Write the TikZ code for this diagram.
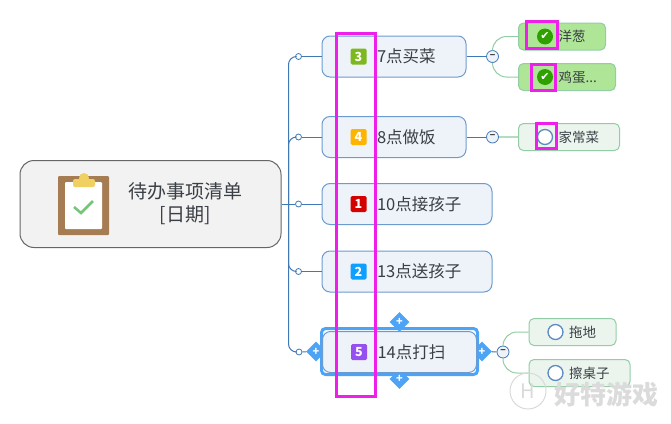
\documentclass[tikz,border=0pt]{standalone}
\usepackage{fontspec}
\usepackage{xcolor}
\setmainfont{Noto Sans CJK SC}
\newfontfamily\symfont{DejaVu Sans}
\usetikzlibrary{positioning,shapes.geometric}
\definecolor{inkgrey}{HTML}{3A3F45}
\definecolor{topicblue}{HTML}{3F78B5}
\definecolor{topicedge}{HTML}{6C9BCF}
\definecolor{topicfill}{HTML}{EEF3FA}
\definecolor{leafline}{HTML}{93CDA5}
\definecolor{donefill}{HTML}{AEE596}
\definecolor{openfill}{HTML}{EBF5EE}
\definecolor{selblue}{HTML}{4DA3F5}
\definecolor{hilite}{HTML}{F01EEB}
\definecolor{boardbrown}{HTML}{A67C52}
\definecolor{clipyellow}{HTML}{EFD060}
\definecolor{tickgreen}{HTML}{76C478}
\definecolor{prio_a}{HTML}{7DB81E}
\definecolor{prio_b}{HTML}{FFB400}
\definecolor{prio_c}{HTML}{D50000}
\definecolor{prio_d}{HTML}{0FA0FF}
\definecolor{prio_e}{HTML}{9650F0}
\definecolor{checkgreen}{HTML}{2EA000}

\begin{document}
\begin{tikzpicture}[x=1pt,y=-1pt,on grid,
    every node/.style={text=inkgrey},
    roottopic/.style={draw=black!60,fill=black!5,line width=1pt,rounded corners=14pt,
      minimum width=261pt,minimum height=87pt},
    topic/.style={draw=topicedge,fill=topicfill,line width=1pt,rounded corners=8pt,
      text width=#1,align=left,inner xsep=0pt,minimum height=41pt,font=\fontsize{16.5}{19}\selectfont,
      execute at begin node={\hspace*{55pt}}},
    leaf/.style={draw=leafline,rounded corners=5pt,line width=1pt,
      text width=#1,align=left,inner xsep=0pt,minimum height=27pt,font=\fontsize{13.5}{16}\selectfont,
      execute at begin node={\hspace*{40pt}}},
    done/.style={fill=donefill},
    open/.style={fill=openfill},
    prio/.style={fill=#1,rounded corners=1.5pt,minimum size=16pt,inner sep=0pt,text=white,
      font=\bfseries\fontsize{12.5}{12.5}\selectfont},
    checked/.style={circle,fill=checkgreen,minimum size=16pt,inner sep=0pt,text=white,
      font=\symfont\fontsize{11}{11}\selectfont},
    unchecked/.style={circle,draw=topicblue!85!white,fill=white,line width=1.3pt,minimum size=15pt,inner sep=0pt},
    knob/.style={circle,draw=topicblue,fill=white,line width=.8pt,minimum size=6pt,inner sep=0pt},
    fold/.style={circle,draw=topicblue,fill=topicfill,line width=.8pt,minimum size=12pt,inner sep=0pt,
      font=\bfseries\fontsize{9}{9}\selectfont},
    handle/.style={diamond,fill=selblue,minimum size=20pt,inner sep=0pt,text=white,
      font=\bfseries\fontsize{11}{11}\selectfont},
    marker/.style={draw=hilite,line width=3pt,inner sep=0pt},
    branch/.style={draw=topicblue,line width=1pt},
    twig/.style={draw=leafline,line width=1pt,rounded corners=14pt}]
    \useasboundingbox (0,0) rectangle (671,423);

    % central topic
    \node[roottopic] (root) at (150.5,204) {};
    \node (root_txt) [right=34.5pt of root] [align=center,font=\fontsize{19}{23}\selectfont] {待办事项清单\\{}[日期]};
    % clipboard
    \fill[boardbrown,rounded corners=1pt] (58,176) rectangle (109,235);
    \fill[white,rounded corners=1pt] (65,182) rectangle (102,229);
    \fill[clipyellow,rounded corners=2pt] (73,179) rectangle (95,187);
    \fill[clipyellow] (84,178) circle (5);
    \draw[tickgreen,line width=2.5pt] (74,207) -- (81,213) -- (93,201);

    % main topics
    \node[topic=144pt] (t_1) [above right=147.5pt and 243.5pt of root] {7点买菜};
    \node[topic=144pt] (t_2) [above right=67pt and 243.5pt of root]    {8点做饭};
    \node[topic=170pt] (t_3) [right=256.5pt of root]                   {10点接孩子};
    \node[topic=170pt] (t_4) [below right=67.5pt and 256.5pt of root]  {13点送孩子};
    % selected topic
    \node[draw=selblue,fill=white,line width=3pt,rounded corners=4pt,minimum width=156pt,minimum height=46pt]
      (sel) [below right=147.5pt and 249pt of root] {};
    \node[handle] (h_l) [left=4pt of sel.west,anchor=center]   {+};
    \node[handle] (h_r) [right=3pt of sel.east,anchor=center]  {+};
    \node[handle] (h_t) [above=5pt of sel.north,anchor=center] {+};
    \node[handle] (h_b) [below=3pt of sel.south,anchor=center] {+};
    \node[topic=154pt] (t_5) [below=0.5pt of sel] {14点打扫};

    % priorities
    \node[prio=prio_a] (p_1) [right=37pt of t_1.west,anchor=center] {3};
    \node[prio=prio_b] (p_2) [right=37pt of t_2.west,anchor=center] {4};
    \node[prio=prio_c] (p_3) [right=37pt of t_3.west,anchor=center] {1};
    \node[prio=prio_d] (p_4) [right=37pt of t_4.west,anchor=center] {2};
    \node[prio=prio_e] (p_5) [right=37pt of t_5.west,anchor=center] {5};

    % bus knobs
    \coordinate (bus) at ([xshift=7pt]root.east);
    \node[knob] (c_1) [left=23pt of t_1.west,anchor=center] {};
    \node[knob] (c_2) [left=23pt of t_2.west,anchor=center] {};
    \node[knob] (c_3) [left=23pt of t_3.west,anchor=center] {};
    \node[knob] (c_4) [left=23pt of t_4.west,anchor=center] {};
    \node[knob] (c_5) [left=23pt of t_5.west,anchor=center] {};

    % fold buttons
    \node[fold] (m_1) [right=26pt of t_1.east,anchor=center] {−};
    \node[fold] (m_2) [right=26pt of t_2.east,anchor=center] {−};
    \node[fold] (m_5) [right=26pt of t_5.east,anchor=center] {−};

    % subtopics
    \node[leaf=87pt,done]  (l_1) [above right=20pt and 69.5pt of m_1] {洋葱};
    \node[leaf=97pt,done]  (l_2) [below right=20.5pt and 74.5pt of m_1] {鸡蛋...};
    \node[leaf=101pt,open] (l_3) [right=76.5pt of m_2] {家常菜};
    \node[leaf=87pt,open]  (l_4) [above right=20pt and 69.5pt of m_5] {拖地};
    \node[leaf=101pt,open] (l_5) [below right=21pt and 76.5pt of m_5] {擦桌子};

    \node[checked]   (k_1) [right=27pt of l_1.west,anchor=center] {✔};
    \node[checked]   (k_2) [right=27pt of l_2.west,anchor=center] {✔};
    \node[unchecked] (k_3) [right=27pt of l_3.west,anchor=center] {};
    \node[unchecked] (k_4) [right=27pt of l_4.west,anchor=center] {};
    \node[unchecked] (k_5) [right=27pt of l_5.west,anchor=center] {};

    % bus edges
    \path[branch]
    (root) edge (c_3)
    (c_1) edge (t_1)
    (c_2) edge (t_2)
    (c_3) edge (t_3)
    (c_4) edge (t_4)
    (c_5) edge (h_l)
    (t_1) edge (m_1)
    (t_2) edge (m_2)
    (h_r) edge (m_5);
    \draw[branch,rounded corners=8pt] (bus) |- (c_1);
    \draw[branch,rounded corners=8pt] (bus) |- (c_2);
    \draw[branch,rounded corners=8pt] (bus) |- (c_4);
    \draw[branch,rounded corners=8pt] (bus) |- (c_5);

    % subtopic edges
    \draw[twig] (m_1) |- (l_1);
    \draw[twig] (m_1) |- (l_2);
    \draw[twig,line width=2pt,draw=leafline!70] (m_2) -- (l_3);
    \draw[twig] (m_5) |- (l_4);
    \draw[twig] (m_5) |- (l_5);

    % watermark
    \node[circle,draw=black!15,line width=1pt,minimum size=36pt,inner sep=0pt,text=black!15,font=\fontsize{20}{20}\selectfont]
      (wm_logo) at (528,391) {H};
    \node[text=black!14,font=\bfseries\fontsize{26}{26}\selectfont,inner sep=0pt] (wm_txt) [below right=3pt and 78pt of wm_logo] {好特游戏};

    % highlight boxes
    \node[marker,minimum width=39pt,minimum height=363pt] (box_0) at (356,215) {};
    \node[marker,minimum width=31pt,minimum height=27pt]  (box_1) at (542,35) {};
    \node[marker,minimum width=24pt,minimum height=26pt]  (box_2) at (543.5,77.5) {};
    \node[marker,minimum width=20pt,minimum height=25pt]  (box_3) at (546.5,136) {};
  \end{tikzpicture}
\end{document}
